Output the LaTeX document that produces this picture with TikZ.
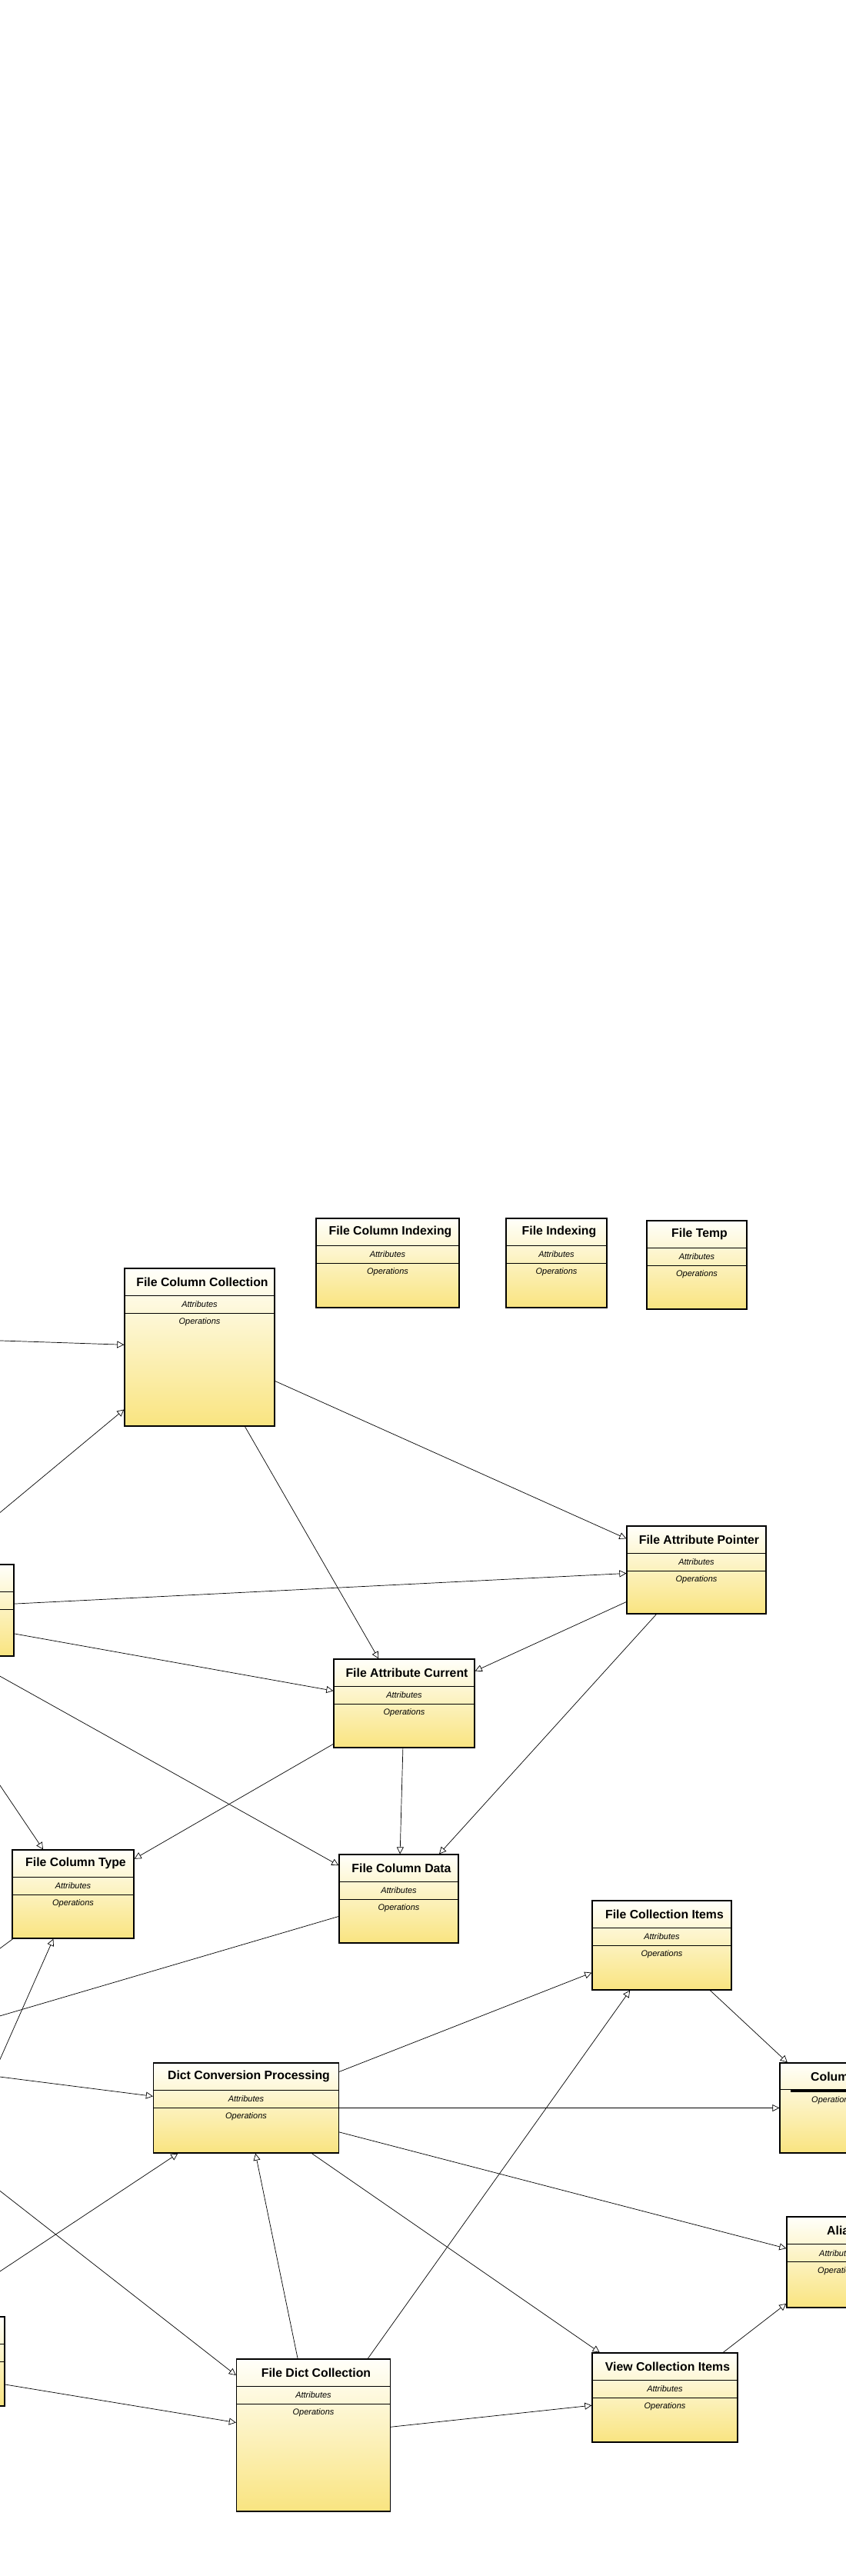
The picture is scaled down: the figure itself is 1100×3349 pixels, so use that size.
\documentclass[tikz,border=0pt]{standalone}
\usepackage{fontspec}
\setmainfont{Liberation Sans}
\usetikzlibrary{arrows.meta}

\definecolor{boxtop}{RGB}{255,255,250}
\definecolor{boxbottom}{RGB}{249,228,128}

% class box: name, centre x, centre y, width, height, title
\newcommand{\classbox}[6]{%
  \node[classbox, minimum width=#4pt, minimum height=#5pt] (#1) at (#2,#3) {};
  \draw[compline] ([yshift=-36pt]#1.north west) -- ([yshift=-36pt]#1.north east);
  \draw[compline] ([yshift=-59pt]#1.north west) -- ([yshift=-59pt]#1.north east);
  \node[titletext] (#1-title) at ([xshift=3.5pt,yshift=-18pt]#1.north) {#6};
  \node[membertext] (#1-attr) at ([yshift=-47.5pt]#1.north) {Attributes};
  \node[membertext] (#1-ops) at ([yshift=-70.5pt]#1.north) {Operations};
}
% class box cut by the left edge: only its frame shows
\newcommand{\partbox}[5]{%
  \node[classbox, minimum width=#4pt, minimum height=#5pt] (#1) at (#2,#3) {};
  \draw[compline] ([yshift=-36pt]#1.north west) -- ([yshift=-36pt]#1.north east);
  \draw[compline] ([yshift=-59pt]#1.north west) -- ([yshift=-59pt]#1.north east);
}

\begin{document}
\begin{tikzpicture}[x=1pt, y=-1pt,
  >={Triangle[open, length=9pt, width=9pt]},
  classbox/.style={draw, line width=1.3pt, top color=boxtop, bottom color=boxbottom, inner sep=0pt},
  compline/.style={line width=0.9pt},
  titletext/.style={font=\bfseries\fontsize{15.8}{18}\selectfont, inner sep=0pt},
  membertext/.style={font=\itshape\fontsize{11}{13}\selectfont, inner sep=0pt},
  genline/.style={->, line width=0.7pt}]

  % Page
  \fill[white] (0,0) rectangle (1100,3349);
  \useasboundingbox (0,0) rectangle (1100,3349);
  \clip (0,0) rectangle (1100,3349);

  % Top row of classes
  \classbox{fcidx}{504}{1642}{186}{116}{File Column Indexing}
  \classbox{fidx}{723.5}{1642}{131}{116}{File Indexing}
  \classbox{ftemp}{906}{1644.5}{130}{115}{File Temp}

  % Classes
  \classbox{fcc}{259.5}{1751.5}{195}{205}{File Column Collection}
  \classbox{fap}{905.5}{2041}{181}{114}{File Attribute Pointer}
  \classbox{fac}{525.5}{2214.5}{183}{115}{File Attribute Current}
  \classbox{fct}{95}{2462.5}{158}{115}{File Column Type}
  \classbox{fcd}{518.5}{2468.5}{155}{115}{File Column Data}
  \classbox{fcitems}{860.5}{2529}{181}{116}{File Collection Items}
  \classbox{dcp}{320}{2740.5}{241}{117}{Dict Conversion Processing}
  \classbox{fdc}{407.5}{3166}{200}{198}{File Dict Collection}
  \classbox{vci}{864.5}{3117}{189}{116}{View Collection Items}

  % Classes cut by the left edge
  \partbox{lbone}{-153}{2093.5}{342}{119}
  \partbox{lbtwo}{-176.5}{3070}{365}{116}

  % Classes cut by the right edge
  \node[classbox, minimum width=146pt, minimum height=117pt] (colum) at (1087,2740.5) {};
  \draw[compline] ([yshift=-35pt]colum.north west) -- ([yshift=-35pt]colum.north east);
  \fill[black] (1028,2716) rectangle (1160,2720);
  \node[titletext, anchor=west] (colum-title) at (1054,2699.5) {Colum};
  \node[membertext, anchor=west] (colum-ops) at (1055,2731) {Operations};

  \node[classbox, minimum width=138pt, minimum height=118pt] (alias) at (1092,2941) {};
  \draw[compline] ([yshift=-36pt]alias.north west) -- ([yshift=-36pt]alias.north east);
  \draw[compline] ([yshift=-59pt]alias.north west) -- ([yshift=-59pt]alias.north east);
  \node[titletext, anchor=west] (alias-title) at (1075,2900) {Alia};
  \node[membertext, anchor=west] (alias-attr) at (1065,2929.5) {Attributes};
  \node[membertext, anchor=west] (alias-ops) at (1063,2952.5) {Operations};

  % Free ends of connectors leaving the page
  \coordinate (offA) at (-300,1733);
  \coordinate (offB) at (-100,2903);
  \coordinate (offC) at (-300,2662);
  \coordinate (offD) at (-300,2709);
  \coordinate (offE) at (-200,2681);
  \coordinate (offF) at (-300,2614);

  % Generalisations
  \draw[genline] (offA) -- (fcc);
  \draw[genline] (lbone) -- (fcc);
  \draw[genline] (fcc) -- (fac);
  \draw[genline] (fcc) -- (fap);
  \draw[genline] (lbone) -- (fap);
  \draw[genline] (lbone) -- (fac);
  \draw[genline] (fap) -- (fac);
  \draw[genline] (fap) -- (fcd);
  \draw[genline] (lbone) -- (fcd);
  \draw[genline] (lbone) -- (fct);
  \draw[genline] (fac) -- (fcd);
  \draw[genline] (fac) -- (fct);
  \draw[genline] (fcd) -- (offD);
  \draw[genline] (fct) -- (offE);
  \draw[genline] (offB) -- (fct);
  \draw[genline] (offC) -- (dcp);
  \draw[genline] (dcp) -- (fcitems);
  \draw[genline] (fdc) -- (fcitems);
  \draw[genline] (fcitems) -- (colum);
  \draw[genline] (dcp) -- (colum);
  \draw[genline] (dcp) -- (alias);
  \draw[genline] (dcp) -- (vci);
  \draw[genline] (lbtwo) -- (dcp);
  \draw[genline] (fdc) -- (dcp);
  \draw[genline] (offF) -- (fdc);
  \draw[genline] (lbtwo) -- (fdc);
  \draw[genline] (fdc) -- (vci);
  \draw[genline] (vci) -- (alias);

\end{tikzpicture}
\end{document}
